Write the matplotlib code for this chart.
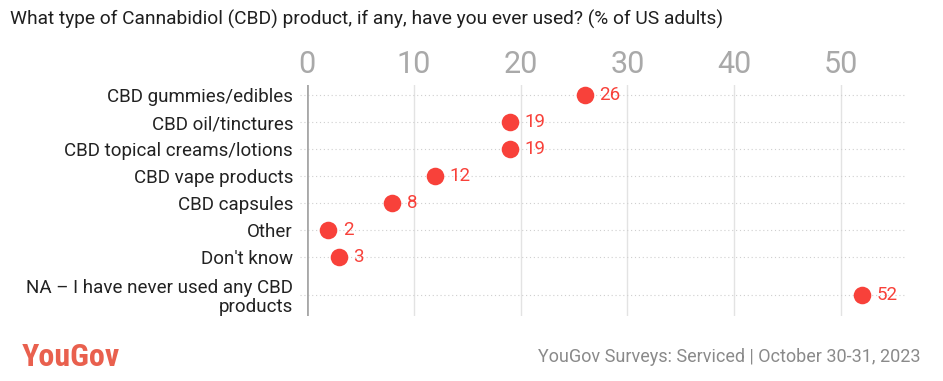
import matplotlib
matplotlib.use("Agg")
import matplotlib.pyplot as plt
import numpy as np

categories = ["CBD gummies/edibles", "CBD oil/tinctures", "CBD topical creams/lotions",
              "CBD vape products", "CBD capsules", "Other", "Don't know",
              "NA – I have never used any CBD\nproducts"]
values = [26, 19, 19, 12, 8, 2, 3, 52]
xticks = [0, 10, 20, 30, 40, 50]

title = "What type of Cannabidiol (CBD) product, if any, have you ever used? (% of US adults)"
source = "YouGov Surveys: Serviced | October 30-31, 2023"

RED = "#f8413a"
FONT = "Roboto"
plt.rcParams['font.family'] = [FONT, 'DejaVu Sans']

W, H = 943, 381
fig = plt.figure(figsize=(W / 100, H / 100), dpi=100)

# row positions: multi-line labels take more room
lines = [c.count("\n") + 1 for c in categories]
heights = [1 + 0.8 * (n - 1) for n in lines]
pos = [0.0]
for i in range(1, len(categories)):
    pos.append(pos[-1] + (heights[i - 1] + heights[i]) / 2)
pos = np.array(pos)

top_px, bot_px = 85, 316
left_px, right_px = 307, 905
ax = fig.add_axes([left_px / W, 1 - bot_px / H, (right_px - left_px) / W, (bot_px - top_px) / H])
ax.set_xlim(0, 56)
ax.set_ylim(pos[-1] + 0.78, pos[0] - 0.37)

for s in ax.spines.values():
    s.set_visible(False)
ax.axvline(0, color="#a8a8a8", lw=2, zorder=2)
for t in xticks[1:]:
    ax.axvline(t, color="#e3e3e3", lw=1, zorder=1)
ax.hlines(pos, -0.7, 56, colors="#cfcfcf", linestyles=(0, (1, 2.5)), lw=0.8, clip_on=False, zorder=1)

ax.scatter(values, pos, s=160, color=RED, zorder=3, linewidths=0)
for v, y in zip(values, pos):
    ax.annotate(str(v), (v, y), xytext=(10.5, 0), textcoords="offset points",
                va="center", ha="left", color=RED, fontsize=13.5)

ax.xaxis.tick_top()
ax.set_xticks(xticks)
ax.set_xticklabels([str(t) for t in xticks], fontsize=22, color="#a9a9a9")
ax.tick_params(axis="x", length=0, pad=4)
ax.set_yticks(pos)
ax.set_yticklabels(categories, fontsize=13.5, color="#222222", ha="right", linespacing=1.05)
ax.tick_params(axis="y", length=0, pad=10)

fig.text(10 / W, 1 - 19 / H, title, fontsize=13.8, color="#1f1f1f", va="center", ha="left")
fig.text(22 / W, 1 - 357 / H, "YouGov", fontsize=23, color="#e9604e", va="center", ha="left",
         fontweight="bold", family=["Roboto Condensed", FONT, "DejaVu Sans"])
fig.text(920 / W, 1 - 357 / H, source, fontsize=13, color="#8a8a8a", va="center", ha="right")

fig.savefig("out.png", dpi=100)
